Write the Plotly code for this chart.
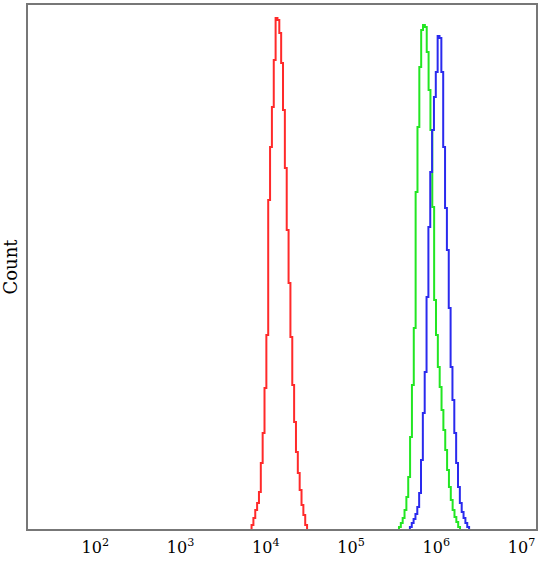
import numpy as np
import plotly.graph_objects as go

# ---- data (log-scale histogram, counts per channel) ----
BIN_DECADES = 0.0217          # width of one channel in decades

red_start_log = 3.833         # log10 of first channel's lower edge
red_counts = [4, 11, 19, 26, 37, 66, 96, 141, 194, 329, 382, 422, 469, 511, 509,
              496, 466, 419, 361, 299, 246, 192, 144, 107, 77, 56, 39, 24, 14, 4]

green_start_log = 5.562
green_counts = [2, 6, 11, 19, 32, 52, 92, 144, 201, 337, 402, 462, 499, 504, 502,
                477, 439, 399, 322, 229, 194, 162, 142, 119, 99, 79, 59, 42, 29,
                19, 12, 7, 2]

blue_start_log = 5.690
blue_counts = [2, 6, 10, 15, 22, 36, 69, 116, 157, 232, 302, 357, 399, 432, 457,
               493, 491, 457, 382, 321, 279, 221, 162, 129, 96, 66, 42, 26, 17,
               11, 6, 2]

tick_vals = [1e2, 1e3, 1e4, 1e5, 1e6, 1e7]
tick_text = ["10<sup>2</sup>", "10<sup>3</sup>", "10<sup>4</sup>",
             "10<sup>5</sup>", "10<sup>6</sup>", "10<sup>7</sup>"]

X_RANGE_LOG = [1.211, 7.169]
Y_MAX = 524


def step_xy(start_log, counts):
    n = len(counts)
    edges = 10 ** (start_log + BIN_DECADES * np.arange(n + 1))
    xs = [edges[0]] + list(edges[1:]) + [edges[-1]]
    ys = [0] + list(counts) + [0]
    return xs, ys


fig = go.Figure()
for start, counts, color in [
    (red_start_log, red_counts, "#ff2a2a"),
    (green_start_log, green_counts, "#22e622"),
    (blue_start_log, blue_counts, "#2a2aee"),
]:
    xs, ys = step_xy(start, counts)
    fig.add_trace(go.Scatter(x=xs, y=ys, mode="lines",
                             line=dict(color=color, width=2, shape="vh"),
                             hoverinfo="skip", showlegend=False))

fig.update_layout(
    width=545, height=561,
    margin=dict(l=28, r=9, t=5, b=32, autoexpand=False),
    paper_bgcolor="white", plot_bgcolor="white",
    font=dict(family="DejaVu Serif", color="black"),
)
fig.update_xaxes(type="log", range=X_RANGE_LOG, tickvals=tick_vals,
                 ticktext=tick_text, showgrid=False, zeroline=False,
                 showline=True, mirror=True, linecolor="#777777", linewidth=2,
                 ticks="outside", ticklen=3, tickcolor="rgba(0,0,0,0)",
                 automargin=False,
                 tickfont=dict(size=16, family="DejaVu Serif"))
fig.update_yaxes(range=[0, Y_MAX], showticklabels=False, showgrid=False,
                 zeroline=False, showline=True, mirror=True,
                 linecolor="#777777", linewidth=2, ticks="",
                 automargin=False,
                 title=dict(text="Count", standoff=6,
                            font=dict(size=18, family="DejaVu Serif")))

fig.write_html("out.html",
               config={"displayModeBar": False, "staticPlot": True},
               post_script="document.body.style.margin='0';"
                           "document.body.style.overflow='hidden';")
